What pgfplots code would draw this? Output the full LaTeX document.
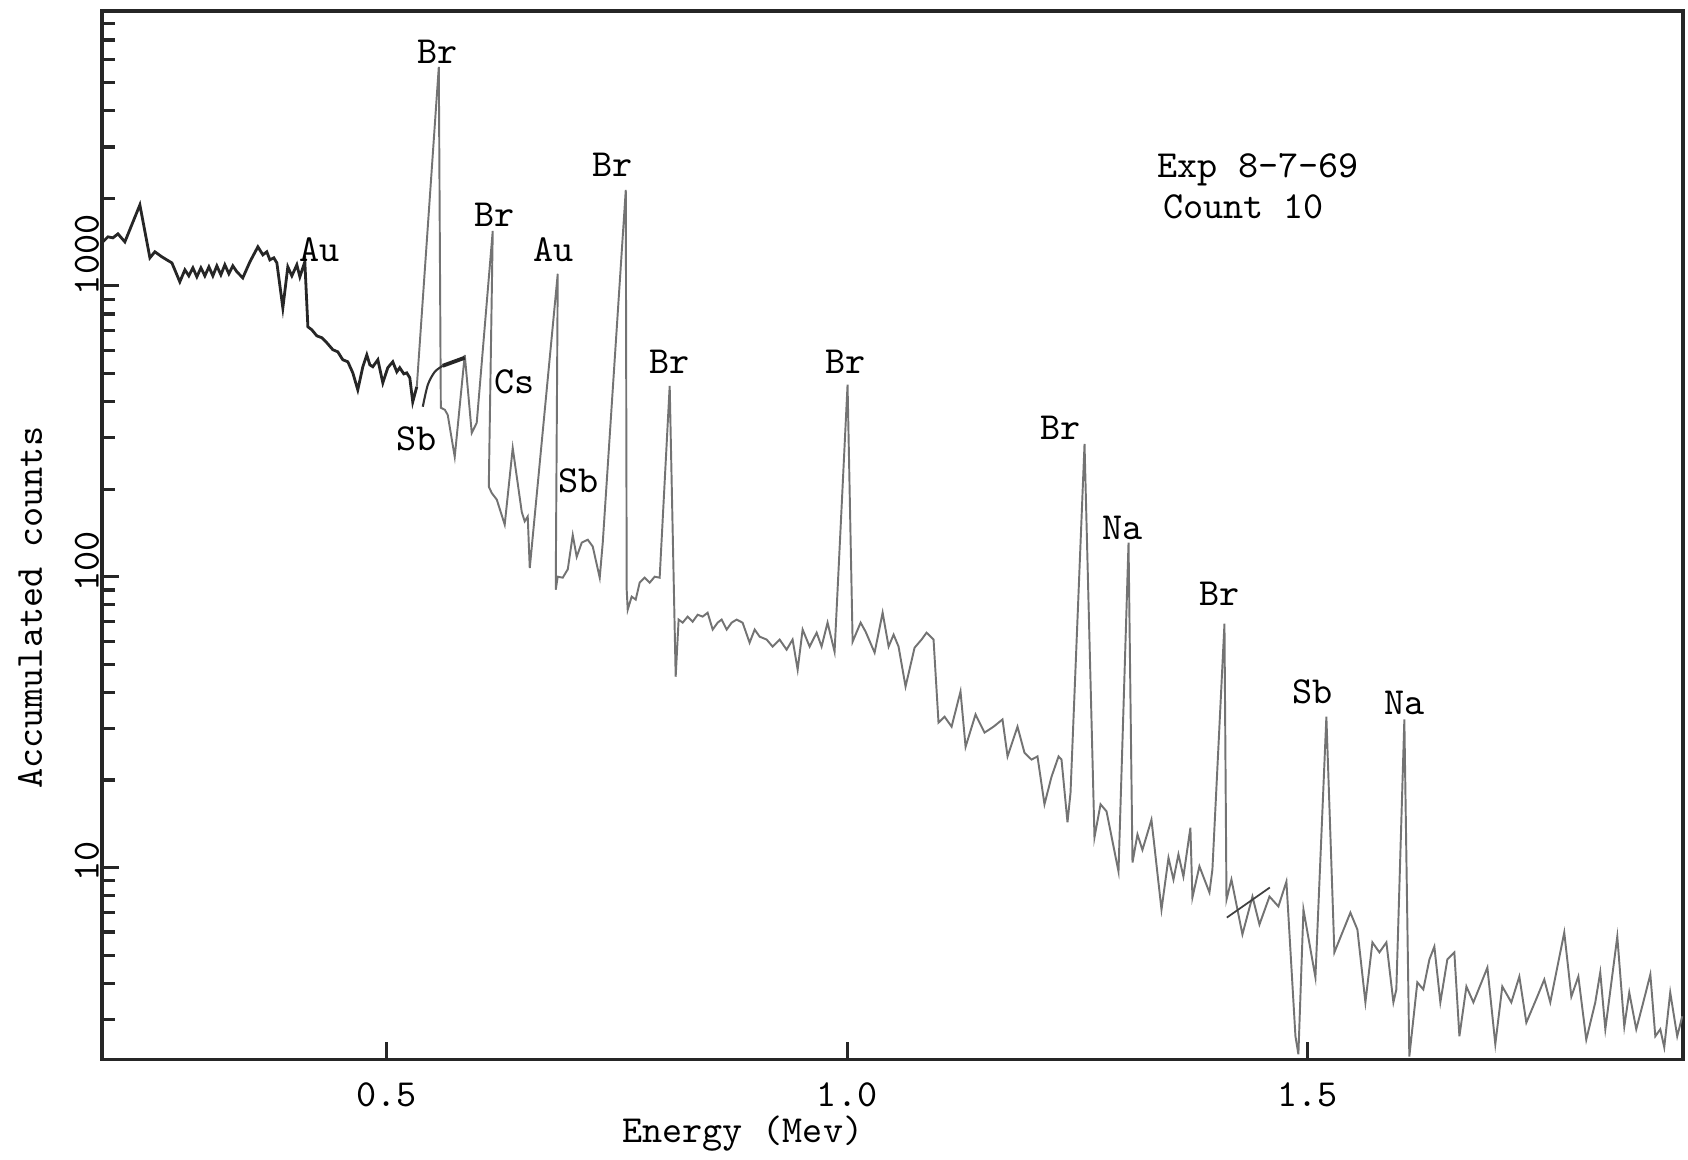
\documentclass[border=0pt]{standalone}
\usepackage{fontspec}
\usepackage{pgfplots}
\pgfplotsset{compat=1.18}
\definecolor{ink}{gray}{0.25}

\begin{document}
\begin{tikzpicture}
\begin{axis}[
    name=ax,
    scale only axis, width=15.82cm, height=10.49cm,
    xmin=0.1906, xmax=1.908,
    ymode=log, ymin=2.19, ymax=8810,
    axis line style={line width=0.9pt, black!85},
    xtick={0.5,1.0,1.5}, xticklabels={,,},
    ytick={10,100,1000}, yticklabels={,,},
    minor ytick={3,4,5,6,7,8,9,20,30,40,50,60,70,80,90,200,300,400,500,600,700,800,900,2000,3000,4000,5000,6000,7000,8000},
    xtick pos=bottom, ytick pos=left, tick align=inside,
    major tick length=0.17cm, minor tick length=0.13cm,
    tick style={black!85, line width=0.9pt},
    clip mode=individual,
    font=\ttfamily\fontsize{10.9}{12}\selectfont,
    every node/.append style={text=ink},
]
% heavy part of the trace (low energy)
\addplot[black!85, line width=0.8pt] coordinates {
(0.1916,1416) (0.1971,1474) (0.2025,1462) (0.2080,1509) (0.2155,1416) (0.2318,1898)
(0.2427,1248) (0.2481,1309) (0.2557,1258) (0.2611,1228) (0.2666,1199) (0.2752,1032)
(0.2807,1135) (0.2850,1082) (0.2894,1153) (0.2937,1074) (0.2981,1153) (0.3024,1082)
(0.3068,1162) (0.3111,1082) (0.3154,1171) (0.3198,1091) (0.3241,1181) (0.3285,1100)
(0.3328,1171) (0.3372,1117) (0.3436,1065) (0.3513,1209) (0.3600,1362) (0.3654,1278)
(0.3697,1309) (0.3730,1228) (0.3773,1248) (0.3806,1199) (0.3871,840) (0.3925,1162)
(0.3969,1082) (0.4023,1181) (0.4056,1074) (0.4110,1209) (0.4143,723) (0.4186,706)
(0.4240,673) (0.4295,663) (0.4349,637) (0.4414,603) (0.4468,593) (0.4522,557)
(0.4577,548) (0.4631,502) (0.4685,439) (0.4740,527) (0.4783,579) (0.4816,535)
(0.4848,527) (0.4903,557) (0.4957,464) (0.5011,523) (0.5065,548) (0.5109,506)
(0.5141,523) (0.5185,498) (0.5217,502) (0.5250,483) (0.5282,399) (0.5326,450)
};
% light part of the trace
\addplot[black!55, line width=0.55pt] coordinates {
(0.5326,450) (0.5565,5656) (0.5587,381) (0.5630,375) (0.5662,360) (0.5738,258)
(0.5847,579) (0.5923,312) (0.5977,338) (0.6151,1545) (0.6108,204) (0.6140,194)
(0.6195,184) (0.6281,151) (0.6368,277) (0.6466,167) (0.6498,155) (0.6531,161)
(0.6553,107) (0.6857,1100) (0.6835,90.2) (0.6857,100) (0.6911,99.2) (0.6966,106)
(0.7020,139) (0.7063,117) (0.7118,131) (0.7183,134) (0.7237,127) (0.7313,99.2)
(0.7346,131) (0.7596,2137) (0.7606,90.2) (0.7617,77.0) (0.7660,85.4) (0.7704,83.4)
(0.7747,95.4) (0.7801,99.2) (0.7856,95.4) (0.7910,100) (0.7964,99.2) (0.8073,453)
(0.8138,45.3) (0.8170,71.2) (0.8214,69.5) (0.8268,72.9) (0.8322,70.0) (0.8377,74.0)
(0.8431,72.9) (0.8485,75.2) (0.8540,65.8) (0.8594,69.5) (0.8637,71.2) (0.8692,65.8)
(0.8746,69.5) (0.8800,71.2) (0.8865,69.5) (0.8941,59.3) (0.8996,65.8) (0.9050,62.2)
(0.9126,60.8) (0.9191,57.5) (0.9267,60.8) (0.9343,56.1) (0.9408,60.8) (0.9463,47.9)
(0.9517,65.8) (0.9593,57.5) (0.9669,64.2) (0.9723,57.5) (0.9788,69.5) (0.9864,55.2)
(1.0005,457) (1.0060,59.8) (1.0147,69.5) (1.0201,64.7) (1.0299,54.8) (1.0386,75.2)
(1.0451,57.5) (1.0505,63.2) (1.0559,57.5) (1.0635,41.9) (1.0733,57.0) (1.0809,60.8)
(1.0863,64.2) (1.0939,60.8) (1.0993,31.5) (1.1059,33.0) (1.1135,30.5) (1.1232,40.3)
(1.1287,26.0) (1.1395,33.6) (1.1493,29.1) (1.1591,30.5) (1.1688,32.3) (1.1743,24.1)
(1.1851,30.5) (1.1927,24.8) (1.2003,23.5) (1.2068,24.1) (1.2144,16.5) (1.2220,20.5)
(1.2297,24.1) (1.2329,23.5) (1.2394,14.3) (1.2427,18.1) (1.2579,286) (1.2687,12.7)
(1.2753,16.5) (1.2818,15.6) (1.2948,9.69) (1.3057,131) (1.3100,10.4) (1.3154,13.0)
(1.3208,11.5) (1.3306,14.6) (1.3415,7.17) (1.3491,10.8) (1.3545,9.09) (1.3599,11.1)
(1.3653,9.31) (1.3729,13.7) (1.3751,7.89) (1.3827,10.1) (1.3882,9.09) (1.3936,8.21)
(1.3968,9.84) (1.4099,68.9) (1.4121,7.76) (1.4175,9.09) (1.4294,5.89) (1.4403,7.95)
(1.4479,6.37) (1.4588,7.95) (1.4685,7.35) (1.4772,8.95) (1.4870,2.63) (1.4902,2.28)
(1.4957,7.17) (1.5087,4.19) (1.5206,33.0) (1.5293,5.11) (1.5467,7.0) (1.5543,6.12)
(1.5630,3.44) (1.5706,5.53) (1.5782,5.11) (1.5858,5.53) (1.5934,3.44) (1.5966,3.81)
(1.6053,32.3) (1.6107,2.24) (1.6194,4.03) (1.6259,3.81) (1.6325,4.83) (1.6379,5.35)
(1.6444,3.44) (1.6520,4.83) (1.6596,5.11) (1.6651,2.63) (1.6727,3.90) (1.6803,3.44)
(1.6955,4.53) (1.7041,2.47) (1.7117,3.90) (1.7215,3.44) (1.7302,4.22) (1.7378,2.93)
(1.7497,3.60) (1.7573,4.12) (1.7638,3.44) (1.7790,5.98) (1.7867,3.60) (1.7943,4.22)
(1.8029,2.56) (1.8127,3.44) (1.8181,4.36) (1.8236,2.78) (1.8366,5.79) (1.8442,2.84)
(1.8496,3.72) (1.8572,2.78) (1.8648,3.44) (1.8725,4.29) (1.8779,2.63) (1.8833,2.78)
(1.8876,2.41) (1.8941,3.72) (1.9017,2.63) (1.9072,3.08)
};
% pencil marks
\addplot[black!80, line width=0.6pt, smooth] coordinates {
(0.5391,384) (0.5446,457) (0.5521,506) (0.5608,531)};
\addplot[black!85, line width=1.1pt] coordinates {(0.5608,531) (0.5847,566)};
\addplot[black!75, line width=0.5pt] coordinates {(1.4125,6.73) (1.4592,8.54)};

% peak labels
\node at (axis cs:0.5554,6370) {Br};
\node at (axis cs:0.4273,1330) {Au};
\node at (axis cs:0.6173,1754) {Br};
\node at (axis cs:0.6813,1330) {Au};
\node at (axis cs:0.6390,468) {Cs};
\node at (axis cs:0.5326,298) {Sb};
\node at (axis cs:0.7085,214) {Sb};
\node at (axis cs:0.7454,2605) {Br};
\node at (axis cs:0.8073,548) {Br};
\node at (axis cs:0.9984,548) {Br};
\node at (axis cs:1.2318,325) {Br};
\node at (axis cs:1.2991,147) {Na};
\node at (axis cs:1.4044,87.4) {Br};
\node at (axis cs:1.5054,40.3) {Sb};
\node at (axis cs:1.6053,36.9) {Na};
\node[anchor=west] at (axis cs:1.324,2506) {Exp 8-7-69};
\node[anchor=west] at (axis cs:1.330,1868) {Count 10};

% tick labels and axis titles
\node at (axis cs:0.5,1.66) {0.5};
\node at (axis cs:1.0,1.66) {1.0};
\node at (axis cs:1.5,1.66) {1.5};
\node[rotate=90] at (axis cs:0.1743,1278) {1000};
\node[rotate=90] at (axis cs:0.1743,112.6) {100};
\node[rotate=90] at (axis cs:0.1743,10.5) {10};
\node[rotate=90] at (axis cs:0.1124,78.2) {Accumulated counts};
\node at (axis cs:0.8866,1.22) {Energy (Mev)};
\end{axis}
\pgfresetboundingbox
\path[use as bounding box] ([shift={(-1.02cm,-1.0cm)}]ax.south west) rectangle ([shift={(0.05cm,0.11cm)}]ax.north east);
\end{tikzpicture}
\end{document}
